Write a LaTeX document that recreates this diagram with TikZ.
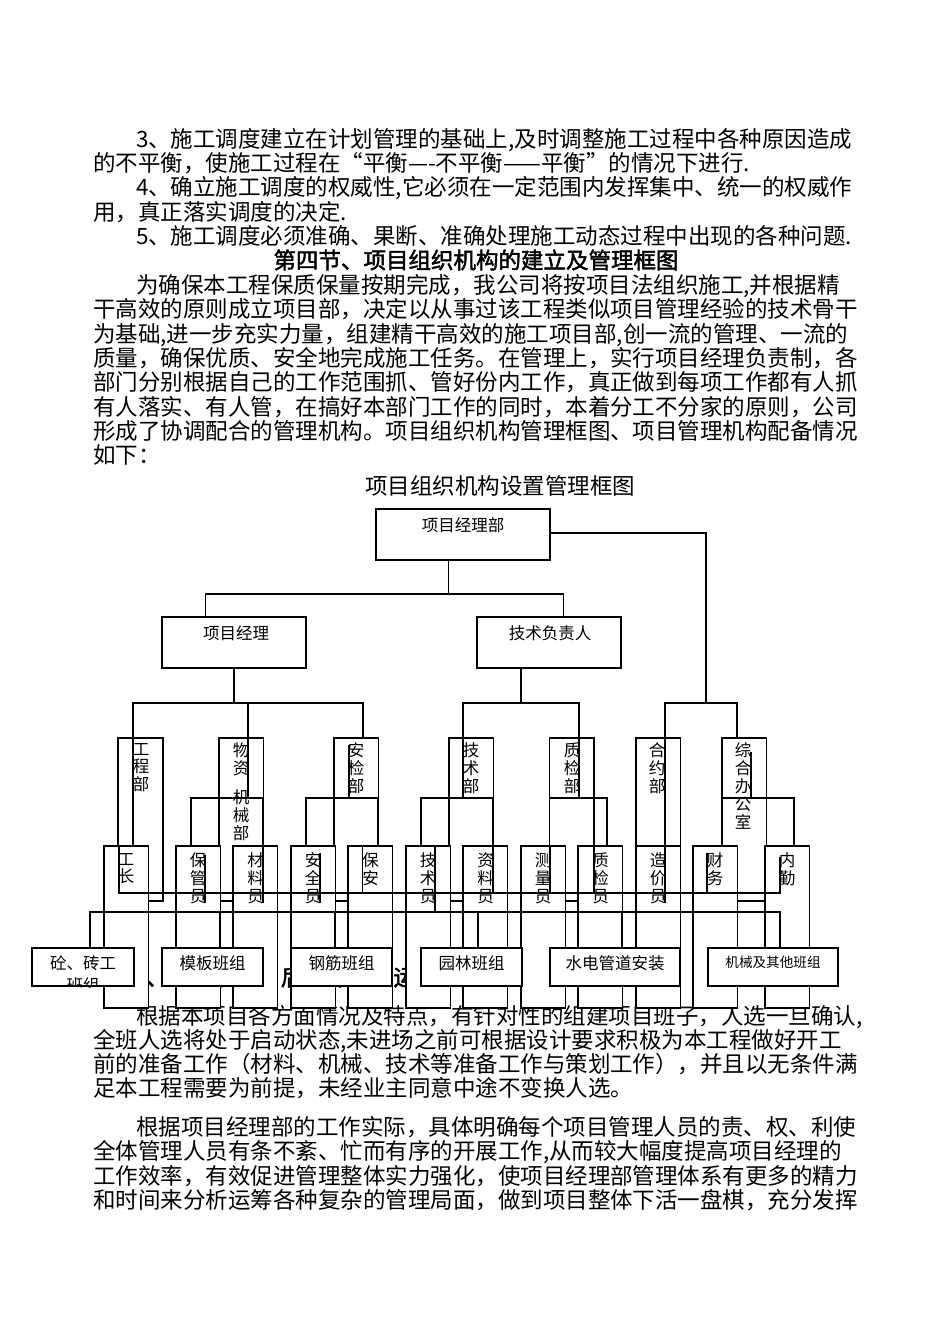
\documentclass[tikz,border=0pt]{standalone}
\usepackage{fontspec}
\setmainfont{Noto Sans CJK SC}
\newfontfamily\hfont{Noto Sans CJK SC}[FakeBold=2]
\begin{document}
\begin{tikzpicture}[x=1pt,y=-1pt,
  every node/.style={inner sep=0pt, outer sep=0pt},
  body/.style={anchor=west, font=\fontsize{22.5}{24}\selectfont, text height=19.8pt, text depth=2.7pt},
  head/.style={anchor=center, font=\fontsize{22.5}{24}\selectfont\hfont, text height=19.8pt, text depth=2.7pt},
  lbl/.style={font=\fontsize{16.5}{17.5}\selectfont, align=center},
  vlbl/.style={font=\fontsize{16.5}{17.8}\selectfont, align=center, anchor=north},
  box/.style={draw, line width=1.2pt, fill=white, anchor=north west},
  ln/.style={line width=1.2pt},
]
\useasboundingbox (0,0) rectangle (950,1344);
\fill[white] (0,0) rectangle (950,1344);

% ---------------- body text top ----------------
\node[body] (t1) at (136,139) {3、施工调度建立在计划管理的基础上,及时调整施工过程中各种原因造成};
\node[body] (t2) at (93,163) {的不平衡，使施工过程在“平衡—-不平衡——平衡”的情况下进行.};
\node[body] (t3) at (136,187) {4、确立施工调度的权威性,它必须在一定范围内发挥集中、统一的权威作};
\node[body] (t4) at (93,212) {用，真正落实调度的决定.};
\node[body] (t5) at (136,236) {5、施工调度必须准确、果断、准确处理施工动态过程中出现的各种问题.};
\node[head] (h4) at (476,260) {第四节、项目组织机构的建立及管理框图};
\node[body] (p1) at (136,285) {为确保本工程保质保量按期完成，我公司将按项目法组织施工,并根据精};
\node[body] (p2) at (93,309) {干高效的原则成立项目部，决定以从事过该工程类似项目管理经验的技术骨干};
\node[body] (p3) at (93,334) {为基础,进一步充实力量，组建精干高效的施工项目部,创一流的管理、一流的};
\node[body] (p4) at (93,358) {质量，确保优质、安全地完成施工任务。在管理上，实行项目经理负责制，各};
\node[body] (p5) at (93,382) {部门分别根据自己的工作范围抓、管好份内工作，真正做到每项工作都有人抓};
\node[body] (p6) at (93,407) {有人落实、有人管，在搞好本部门工作的同时，本着分工不分家的原则，公司};
\node[body] (p7) at (93,431) {形成了协调配合的管理机构。项目组织机构管理框图、项目管理机构配备情况};
\node[body] (p8) at (93,455) {如下：};
\node[body, anchor=center] (cap) at (500,486) {项目组织机构设置管理框图};

% heading mostly hidden behind the chart
\node[head, anchor=west] (h5) at (78.5,977) {第五节、项目班子、后勤保障及运行};

% ---------------- body text bottom ----------------
\node[body] (q1) at (136,1016) {根据本项目各方面情况及特点，有针对性的组建项目班子，人选一旦确认,};
\node[body] (q2) at (93,1040) {全班人选将处于启动状态,未进场之前可根据设计要求积极为本工程做好开工};
\node[body] (q3) at (93,1064) {前的准备工作（材料、机械、技术等准备工作与策划工作），并且以无条件满};
\node[body] (q4) at (93,1088) {足本工程需要为前提，未经业主同意中途不变换人选。};
\node[body] (r1) at (136,1127) {根据项目经理部的工作实际，具体明确每个项目管理人员的责、权、利使};
\node[body] (r2) at (93,1151) {全体管理人员有条不紊、忙而有序的开展工作,从而较大幅度提高项目经理的};
\node[body] (r3) at (93,1176) {工作效率，有效促进管理整体实力强化，使项目经理部管理体系有更多的精力};
\node[body] (r4) at (93,1200) {和时间来分析运筹各种复杂的管理局面，做到项目整体下活一盘棋，充分发挥};

% ---------------- chart: top levels ----------------
\node[box, minimum width=174pt, minimum height=51pt] (pmd) at (376,509) {};
\node[lbl] at (463,525) {项目经理部};
\node[box, minimum width=144pt, minimum height=51pt] (pm) at (162,617) {};
\node[lbl] at (236,633) {项目经理};
\node[box, minimum width=144pt, minimum height=51pt] (tl) at (477,617) {};
\node[lbl] at (550,633) {技术负责人};

\coordinate (b1) at (448.5,594);
\draw[ln] (b1 |- pmd.south) -- (b1);
\draw[ln] (205.5,617) -- (205.5,594) -- (563.7,594) -- (563.7,617);
\draw[ln] (pmd.east |- 0,533) -- (706,533) -- (706,703);

\draw[ln] (234,668) -- (234,703);
\draw[ln] (133,738) -- (133,703) -- (363,703) -- (363,738);
\draw[ln] (248,703) -- (248,738);
\draw[ln] (521,668) -- (521,703);
\draw[ln] (463,738) -- (463,703) -- (579,703) -- (579,738);
\draw[ln] (665,738) -- (665,703) -- (737,703) -- (737,738);

% ---------------- departments ----------------
\node[box, minimum width=45pt, minimum height=163pt] (d1) at (118,738) {};
\node[box, minimum width=44.5pt, minimum height=163pt] (d2) at (219,738) {};
\node[box, minimum width=44.5pt, minimum height=163pt] (d3) at (334,738) {};
\node[box, minimum width=44.5pt, minimum height=163pt] (d4) at (449,738) {};
\node[box, minimum width=44.5pt, minimum height=163pt] (d5) at (549.5,738) {};
\node[box, minimum width=44.5pt, minimum height=163pt] (d6) at (636,738) {};
\node[box, minimum width=44.5pt, minimum height=163pt] (d7) at (722,738) {};
\node[vlbl] at (141,743) {工\\程\\部};
\node[vlbl] at (241,743) {物\\资};
\node[vlbl] at (241,790) {机\\械\\部};
\node[vlbl] at (356,743) {安\\检\\部};
\node[vlbl] at (471,743) {技\\术\\部};
\node[vlbl] at (572,743) {质\\检\\部};
\node[vlbl] at (657,743) {合\\约\\部};
\node[vlbl] at (743,743) {综\\合\\办\\公\\室};

% lines through department boxes and brackets
\draw[ln] (133,738) -- (133,846);
\draw[ln] (248,738) -- (248,798);
\draw[ln] (191,846) -- (191,798) -- (263,798) -- (263,846);
\draw[ln] (349,745) -- (349,798);
\draw[ln] (306,846) -- (306,798) -- (378,798) -- (378,846);
\draw[ln] (463,738) -- (463,798);
\draw[ln] (421,846) -- (421,798) -- (493,798) -- (493,846);
\draw[ln] (579,738) -- (579,798);
\draw[ln] (549.5,846) -- (549.5,798) -- (607,798) -- (607,846);
\draw[ln] (665,738) -- (665,846);
\draw[ln] (751,752) -- (751,798);
\draw[ln] (722,846) -- (722,798) -- (794,798) -- (794,846);

% ---------------- staff ----------------
\node[box, minimum width=44.5pt, minimum height=162pt] (s1) at (104,846) {};
\node[box, minimum width=44.5pt, minimum height=162pt] (s2) at (176,846) {};
\node[box, minimum width=44.5pt, minimum height=162pt] (s3) at (233,846) {};
\node[box, minimum width=44.5pt, minimum height=162pt] (s4) at (291,846) {};
\node[box, minimum width=44.5pt, minimum height=162pt] (s5) at (348,846) {};
\node[box, minimum width=44.5pt, minimum height=162pt] (s6) at (406,846) {};
\node[box, minimum width=44.5pt, minimum height=162pt] (s7) at (463,846) {};
\node[box, minimum width=44.5pt, minimum height=162pt] (s8) at (521,846) {};
\node[box, minimum width=44.5pt, minimum height=162pt] (s9) at (578,846) {};
\node[box, minimum width=44.5pt, minimum height=162pt] (s10) at (636,846) {};
\node[box, minimum width=44.5pt, minimum height=162pt] (s11) at (693,846) {};
\node[box, minimum width=44.5pt, minimum height=162pt] (s12) at (765,846) {};
\node[vlbl] at (126,853) {工\\长};
\node[vlbl] at (198,853) {保\\管\\员};
\node[vlbl] at (255.5,853) {材\\料\\员};
\node[vlbl] at (313,853) {安\\全\\员};
\node[vlbl] at (370.5,853) {保\\安};
\node[vlbl] at (428,853) {技\\术\\员};
\node[vlbl] at (485.5,853) {资\\料\\员};
\node[vlbl] at (543,853) {测\\量\\员};
\node[vlbl] at (600.5,853) {质\\检\\员};
\node[vlbl] at (658,853) {造\\价\\员};
\node[vlbl] at (715,853) {财\\务};
\node[vlbl] at (787,853) {内\\勤};

% lines crossing the staff boxes
\draw[ln] (205,855) -- (205,903);
\draw[ln] (263,846) -- (263,903);
\draw[ln] (320,853) -- (320,903);
\draw[ln] (362.7,846) -- (362.7,893);
\draw[ln] (435,846) -- (435,912);
\draw[ln] (493,846) -- (493,893);
\draw[ln] (550,846) -- (550,893);
\draw[ln] (594,846) -- (594,893);
\draw[ln] (665,846) -- (665,903);
\draw[ln] (707,853) -- (707,893);

% long buses
\draw[ln] (119,846) -- (119,893) -- (780,893) -- (780,857);
\draw[ln] (90,948) -- (90,912) -- (780,912) -- (780,948);
\draw[ln] (220,912) -- (220,948);
\draw[ln] (335,912) -- (335,948);
\draw[ln] (478,912) -- (478,948);
\draw[ln] (621.7,912) -- (621.7,948);

% ---------------- teams ----------------
\node[box, minimum width=102pt, minimum height=38pt] (g1) at (32,948) {};
\begin{scope}
\clip (32,948) rectangle (134,986);
\node[lbl, font=\fontsize{16.5}{22}\selectfont] at (83,974) {砼、砖工\\班组};
\end{scope}
\node[box, minimum width=101pt, minimum height=38pt] (g2) at (162,948) {};
\node[lbl] at (212.5,963) {模板班组};
\node[box, minimum width=101pt, minimum height=38pt] (g3) at (291,948) {};
\node[lbl] at (341.5,963) {钢筋班组};
\node[box, minimum width=101pt, minimum height=38pt] (g4) at (421,948) {};
\node[lbl] at (471.5,963) {园林班组};
\node[box, minimum width=130pt, minimum height=38pt] (g5) at (550,948) {};
\node[lbl] at (615,963) {水电管道安装};
\node[box, minimum width=130pt, minimum height=38pt] (g6) at (708,948) {};
\node[lbl, font=\fontsize{13.6}{15}\selectfont] at (773,962) {机械及其他班组};
\end{tikzpicture}
\end{document}
